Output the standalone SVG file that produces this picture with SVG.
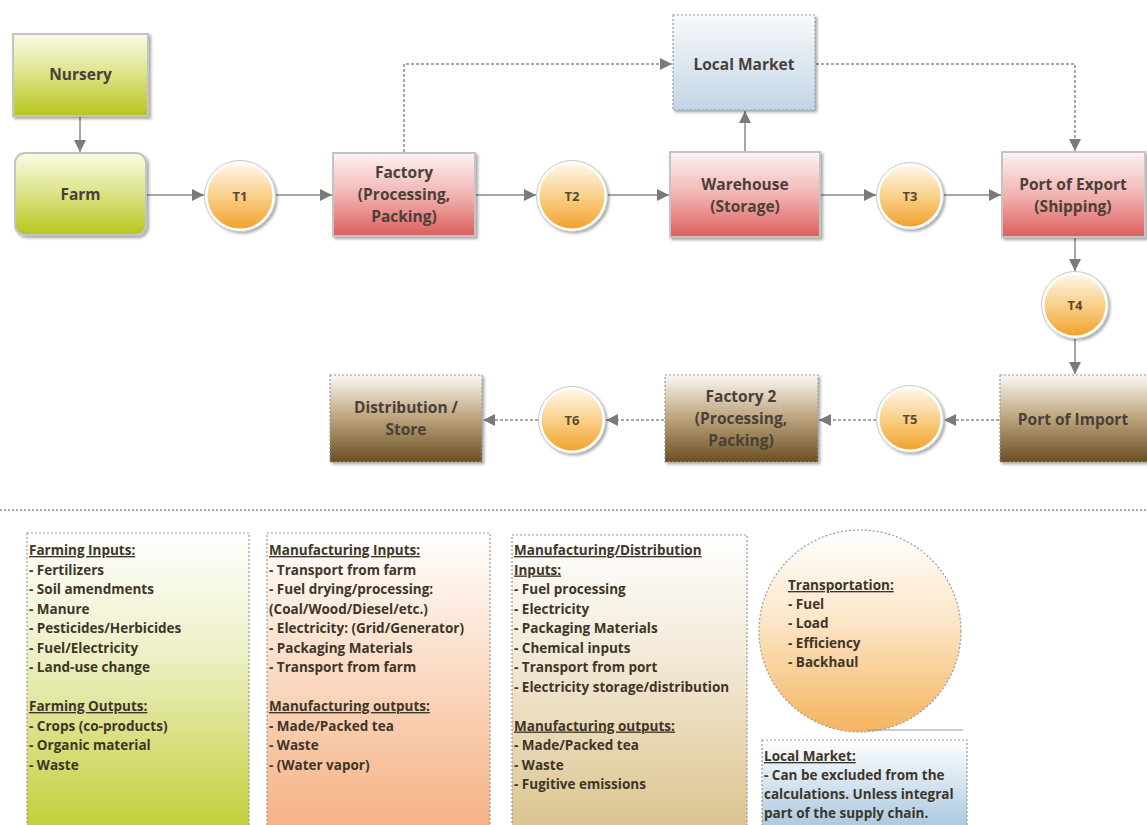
<svg xmlns="http://www.w3.org/2000/svg" width="1147" height="825" viewBox="0 0 1147 825">
<defs>
<linearGradient id="gGreen" x1="0" y1="0" x2="0" y2="1"><stop offset="0" stop-color="#fafbe6"/><stop offset="0.45" stop-color="#dfe58f"/><stop offset="1" stop-color="#b7c61c"/></linearGradient>
<linearGradient id="gRed" x1="0" y1="0" x2="0" y2="1"><stop offset="0" stop-color="#fdf3f3"/><stop offset="0.5" stop-color="#f1b4b2"/><stop offset="1" stop-color="#dd5f5c"/></linearGradient>
<linearGradient id="gBlue" x1="0" y1="0" x2="0" y2="1"><stop offset="0" stop-color="#f7f9fb"/><stop offset="1" stop-color="#c2d6e6"/></linearGradient>
<linearGradient id="gBrown" x1="0" y1="0" x2="0" y2="1"><stop offset="0" stop-color="#faf8f4"/><stop offset="0.45" stop-color="#c2ab86"/><stop offset="1" stop-color="#6b4f22"/></linearGradient>
<linearGradient id="gOrange" x1="0" y1="0" x2="0" y2="1"><stop offset="0" stop-color="#fff9ee"/><stop offset="0.5" stop-color="#f9d089"/><stop offset="1" stop-color="#f2a02a"/></linearGradient>
<linearGradient id="gBoxGreen" x1="0" y1="0" x2="0" y2="1"><stop offset="0" stop-color="#ffffff"/><stop offset="0.4" stop-color="#eef0c8"/><stop offset="1" stop-color="#c2cf3a"/></linearGradient>
<linearGradient id="gBoxPeach" x1="0" y1="0" x2="0" y2="1"><stop offset="0" stop-color="#ffffff"/><stop offset="0.4" stop-color="#fbe0cc"/><stop offset="1" stop-color="#f5b184"/></linearGradient>
<linearGradient id="gBoxTan" x1="0" y1="0" x2="0" y2="1"><stop offset="0" stop-color="#ffffff"/><stop offset="0.4" stop-color="#f3ead8"/><stop offset="1" stop-color="#dcc48f"/></linearGradient>
<linearGradient id="gBoxOrange" x1="0" y1="0" x2="0" y2="1"><stop offset="0" stop-color="#ffffff"/><stop offset="0.45" stop-color="#fce6c8"/><stop offset="1" stop-color="#f5b45e"/></linearGradient>
<linearGradient id="gBoxBlue" x1="0" y1="0" x2="0" y2="1"><stop offset="0" stop-color="#ffffff"/><stop offset="1" stop-color="#a9c8e0"/></linearGradient>
<filter id="sh" x="-10%" y="-10%" width="125%" height="130%"><feDropShadow dx="2" dy="2" stdDeviation="1.5" flood-color="#000" flood-opacity="0.35"/></filter>
<marker id="ah" viewBox="0 0 10 10" refX="10" refY="5" markerWidth="12" markerHeight="12" markerUnits="userSpaceOnUse" orient="auto"><path d="M0,0 L10,5 L0,10 z" fill="#7a7a7a"/></marker>
<style>
.node{stroke:#c4c4c4;stroke-width:2;filter:url(#sh)}
.dnode{stroke:#9a9a9a;stroke-width:1.2;stroke-dasharray:2,2;filter:url(#sh)}
.circ{stroke:#ffffff;stroke-width:3;filter:url(#sh)}
.circo{fill:none;stroke:#c8c8c8;stroke-width:1}
.lbl{font-family:"Open Sans","Liberation Sans",sans-serif;font-weight:700;font-size:15.5px;fill:#4a4038;text-anchor:middle}
.tl{font-family:"Open Sans","Liberation Sans",sans-serif;font-weight:700;font-size:13px;fill:#5a4a2a;text-anchor:middle}
.con{fill:none;stroke:#8a8a8a;stroke-width:1.5;marker-end:url(#ah)}
.dcon{fill:none;stroke:#8a8a8a;stroke-width:1.5;stroke-dasharray:3,2;marker-end:url(#ah)}
.box{stroke:#9a9a9a;stroke-width:1.2;stroke-dasharray:2,2}
.bt{font-family:"Open Sans","Liberation Sans",sans-serif;font-weight:700;font-size:13.5px;fill:#3e3528}
.hd{text-decoration:underline}
</style>
</defs>
<rect width="1147" height="825" fill="#ffffff"/>

<g id="connectors">
<path class="con" d="M80,116 V152"/>
<path class="con" d="M147,195 H204"/>
<path class="con" d="M276,195 H332"/>
<path class="con" d="M476,195 H536"/>
<path class="con" d="M608,195 H669"/>
<path class="con" d="M745,151 V111"/>
<path class="dcon" d="M404,152 V64 H672"/>
<path class="dcon" d="M816,64 H1075 V151"/>
<path class="con" d="M821,195 H876"/>
<path class="con" d="M944,195 H1001"/>
<path class="con" d="M1075,238 V271"/>
<path class="con" d="M1075,339 V374"/>
<path class="dcon" d="M999,420 H944"/>
<path class="dcon" d="M876,420 H819"/>
<path class="dcon" d="M664,420 H606"/>
<path class="dcon" d="M538,420 H483"/>
</g>

<g id="nursery"><rect class="node" x="13" y="34" width="135" height="82" fill="url(#gGreen)"/><text class="lbl" x="80.5" y="80">Nursery</text></g>
<g id="farm"><rect class="node" x="15" y="153" width="131" height="82" rx="10" fill="url(#gGreen)"/><text class="lbl" x="80.5" y="200">Farm</text></g>
<g id="t1"><circle class="circ" cx="240" cy="196" r="34" fill="url(#gOrange)"/><circle class="circo" cx="240" cy="196" r="35.5"/><text class="tl" x="240" y="201">T1</text></g>
<g id="factory"><rect class="node" x="333" y="153" width="142" height="83" fill="url(#gRed)"/><text class="lbl" x="404" y="178">Factory</text><text class="lbl" x="404" y="200">(Processing,</text><text class="lbl" x="404" y="222">Packing)</text></g>
<g id="t2"><circle class="circ" cx="572" cy="196" r="34" fill="url(#gOrange)"/><circle class="circo" cx="572" cy="196" r="35.5"/><text class="tl" x="572" y="201">T2</text></g>
<g id="local-market"><rect class="dnode" x="673" y="15" width="142" height="95" fill="url(#gBlue)"/><text class="lbl" x="744" y="70">Local Market</text></g>
<g id="warehouse"><rect class="node" x="670" y="152" width="150" height="85" fill="url(#gRed)"/><text class="lbl" x="745" y="190">Warehouse</text><text class="lbl" x="745" y="212">(Storage)</text></g>
<g id="t3"><circle class="circ" cx="910" cy="196" r="32" fill="url(#gOrange)"/><circle class="circo" cx="910" cy="196" r="33.5"/><text class="tl" x="910" y="201">T3</text></g>
<g id="port-export"><rect class="node" x="1002" y="152" width="143" height="85" fill="url(#gRed)"/><text class="lbl" x="1073" y="190">Port of Export</text><text class="lbl" x="1073" y="212">(Shipping)</text></g>
<g id="t4"><circle class="circ" cx="1075" cy="305" r="32" fill="url(#gOrange)"/><circle class="circo" cx="1075" cy="305" r="33.5"/><text class="tl" x="1075" y="310">T4</text></g>
<g id="port-import"><rect class="dnode" x="1000" y="375" width="150" height="87" fill="url(#gBrown)"/><text class="lbl" x="1073" y="425">Port of Import</text></g>
<g id="t5"><circle class="circ" cx="910" cy="419" r="32" fill="url(#gOrange)"/><circle class="circo" cx="910" cy="419" r="33.5"/><text class="tl" x="910" y="424">T5</text></g>
<g id="factory2"><rect class="dnode" x="665" y="375" width="153" height="87" fill="url(#gBrown)"/><text class="lbl" x="741" y="402">Factory 2</text><text class="lbl" x="741" y="424">(Processing,</text><text class="lbl" x="741" y="446">Packing)</text></g>
<g id="t6"><circle class="circ" cx="572" cy="420" r="32" fill="url(#gOrange)"/><circle class="circo" cx="572" cy="420" r="33.5"/><text class="tl" x="572" y="425">T6</text></g>
<g id="distribution"><rect class="dnode" x="330" y="375" width="152" height="87" fill="url(#gBrown)"/><text class="lbl" x="406" y="413">Distribution /</text><text class="lbl" x="406" y="435">Store</text></g>

<line x1="0" y1="510" x2="1147" y2="510" stroke="#a8a8a8" stroke-width="2" stroke-dasharray="2,2"/>

<g id="farming-box"><rect class="box" x="27" y="533" width="222" height="295" fill="url(#gBoxGreen)"/>
<text class="bt" x="29" y="555"><tspan class="hd">Farming Inputs:</tspan><tspan x="29" dy="19.5">- Fertilizers</tspan><tspan x="29" dy="19.5">- Soil amendments</tspan><tspan x="29" dy="19.5">- Manure</tspan><tspan x="29" dy="19.5">- Pesticides/Herbicides</tspan><tspan x="29" dy="19.5">- Fuel/Electricity</tspan><tspan x="29" dy="19.5">- Land-use change</tspan><tspan x="29" dy="39" class="hd">Farming Outputs:</tspan><tspan x="29" dy="19.5">- Crops (co-products)</tspan><tspan x="29" dy="19.5">- Organic material</tspan><tspan x="29" dy="19.5">- Waste</tspan></text></g>

<g id="manufacturing-box"><rect class="box" x="267" y="533" width="223" height="295" fill="url(#gBoxPeach)"/>
<text class="bt" x="269" y="555"><tspan class="hd">Manufacturing Inputs:</tspan><tspan x="269" dy="19.5">- Transport from farm</tspan><tspan x="269" dy="19.5">- Fuel drying/processing:</tspan><tspan x="269" dy="19.5">(Coal/Wood/Diesel/etc.)</tspan><tspan x="269" dy="19.5">- Electricity: (Grid/Generator)</tspan><tspan x="269" dy="19.5">- Packaging Materials</tspan><tspan x="269" dy="19.5">- Transport from farm</tspan><tspan x="269" dy="39" class="hd">Manufacturing outputs:</tspan><tspan x="269" dy="19.5">- Made/Packed tea</tspan><tspan x="269" dy="19.5">- Waste</tspan><tspan x="269" dy="19.5">- (Water vapor)</tspan></text></g>

<g id="distribution-box"><rect class="box" x="512" y="535" width="235" height="293" fill="url(#gBoxTan)"/>
<text class="bt" x="514" y="555"><tspan class="hd">Manufacturing/Distribution</tspan><tspan x="514" dy="19.5" class="hd">Inputs:</tspan><tspan x="514" dy="19.5">- Fuel processing</tspan><tspan x="514" dy="19.5">- Electricity</tspan><tspan x="514" dy="19.5">- Packaging Materials</tspan><tspan x="514" dy="19.5">- Chemical inputs</tspan><tspan x="514" dy="19.5">- Transport from port</tspan><tspan x="514" dy="19.5">- Electricity storage/distribution</tspan><tspan x="514" dy="39" class="hd">Manufacturing outputs:</tspan><tspan x="514" dy="19.5">- Made/Packed tea</tspan><tspan x="514" dy="19.5">- Waste</tspan><tspan x="514" dy="19.5">- Fugitive emissions</tspan></text></g>

<g id="transportation"><circle cx="860" cy="631" r="101" fill="url(#gBoxOrange)" stroke="#9a9a9a" stroke-width="1.2" stroke-dasharray="2,2"/>
<line x1="867" y1="730" x2="963" y2="730" stroke="#9a9a9a" stroke-width="1.2"/>
<text class="bt" x="788" y="590"><tspan class="hd">Transportation:</tspan><tspan x="788" dy="19.2">- Fuel</tspan><tspan x="788" dy="19.2">- Load</tspan><tspan x="788" dy="19.2">- Efficiency</tspan><tspan x="788" dy="19.2">- Backhaul</tspan></text></g>

<g id="local-market-note"><rect class="box" x="762" y="740" width="205" height="88" fill="url(#gBoxBlue)"/>
<text class="bt" x="764" y="761"><tspan class="hd">Local Market:</tspan><tspan x="764" dy="19">- Can be excluded from the</tspan><tspan x="764" dy="19">calculations. Unless integral</tspan><tspan x="764" dy="19">part of the supply chain.</tspan></text></g>
</svg>
